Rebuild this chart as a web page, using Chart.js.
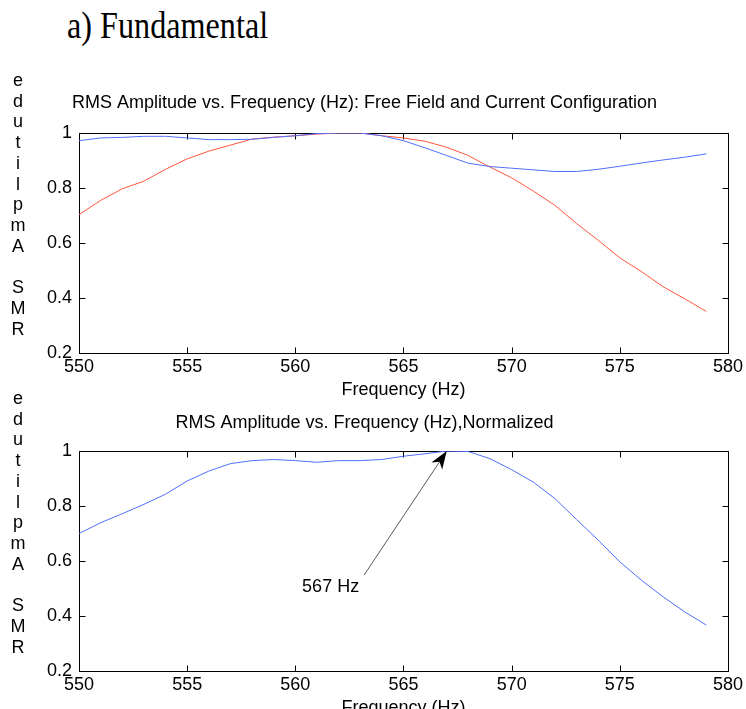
<!DOCTYPE html>
<html><head><meta charset="utf-8">
<script src="https://cdn.jsdelivr.net/npm/chart.js@4.4.0/dist/chart.umd.min.js"></script>
<style>
html,body{margin:0;padding:0;width:746px;height:709px;overflow:hidden;background:#fff;}
#hdr{position:absolute;left:67px;top:5px;font-family:'Liberation Serif','Times New Roman',serif;font-size:37px;line-height:42px;transform-origin:0 0;transform:scaleX(0.87);white-space:nowrap;color:#000;}
#c1{position:absolute;left:0;top:74px;}
#c2{position:absolute;left:0;top:384px;}
</style></head><body>
<div id="hdr">a) Fundamental</div>
<canvas id="c1" width="746" height="330"></canvas>
<canvas id="c2" width="746" height="338"></canvas>
<script>
// ---- data ----
const freqs = [550,551,552,553,554,555,556,557,558,559,560,561,562,563,564,565,566,567,568,569,570,571,572,573,574,575,576,577,578,579];
const freeField = [0.972,0.982,0.984,0.988,0.988,0.982,0.976,0.976,0.977,0.984,0.990,0.998,1.000,1.000,0.990,0.972,0.946,0.918,0.890,0.878,0.872,0.866,0.860,0.860,0.868,0.879,0.891,0.902,0.912,0.924];
const currentConfig = [0.703,0.755,0.797,0.825,0.868,0.906,0.934,0.956,0.978,0.985,0.990,0.996,1.000,1.000,0.990,0.982,0.970,0.948,0.918,0.876,0.837,0.789,0.737,0.671,0.610,0.546,0.496,0.441,0.397,0.351];
const normalized = [0.700,0.739,0.772,0.806,0.843,0.891,0.927,0.954,0.965,0.969,0.965,0.959,0.965,0.965,0.969,0.981,0.990,1.000,0.998,0.972,0.932,0.887,0.827,0.751,0.676,0.597,0.530,0.470,0.415,0.367];
const xTicks = [550,555,560,565,570,575,580];
const yTicks = [0.2,0.4,0.6,0.8,1];
const yLabel = 'RMS Amplitude';
const xLabel = 'Frequency (Hz)';
const title1 = 'RMS Amplitude vs. Frequency (Hz): Free Field and Current Configuration';
const title2 = 'RMS Amplitude vs. Frequency (Hz),Normalized';
const peakLabel = '567 Hz';
const peakFreq = 567;
const peakValue = 1.0;
const arrowTail = [563.18, 0.549];
const labelAnchor = [562.95, 0.505];

// ---- helpers ----
const FONT = "'Liberation Sans', Arial, sans-serif";
Chart.defaults.color = '#000';
Chart.defaults.font.family = FONT;
Chart.defaults.font.size = 18;

const pts = (ys) => freqs.map((f, i) => ({x: f, y: ys[i]}));

const framePlugin = {
  id: 'frame',
  beforeDatasetsDraw(chart) {
    const {ctx, chartArea: a, scales: {x, y}} = chart;
    ctx.save();
    ctx.strokeStyle = '#000';
    ctx.lineWidth = 1;
    const L = Math.round(a.left) + 0.5, R = Math.round(a.right) + 0.5;
    const T = Math.round(a.top) + 0.5, B = Math.round(a.bottom) + 0.5;
    ctx.strokeRect(L, T, R - L, B - T);
    const tl = 6;
    ctx.beginPath();
    xTicks.forEach(v => {
      const px = Math.round(x.getPixelForValue(v)) + 0.5;
      ctx.moveTo(px, B); ctx.lineTo(px, B - tl);
      ctx.moveTo(px, T); ctx.lineTo(px, T + tl);
    });
    yTicks.forEach(v => {
      const py = Math.round(y.getPixelForValue(v)) + 0.5;
      ctx.moveTo(L, py); ctx.lineTo(L + tl, py);
      ctx.moveTo(R, py); ctx.lineTo(R - tl, py);
    });
    ctx.stroke();
    // stacked (reversed) y-axis label
    ctx.fillStyle = '#000';
    ctx.font = '18px ' + FONT;
    ctx.textAlign = 'center';
    ctx.textBaseline = 'middle';
    const chars = yLabel.split('').reverse();
    chars.forEach((ch, i) => {
      ctx.fillText(ch, 18, a.top - 52 + i * 20.75);
    });
    ctx.restore();
  }
};

const arrowPlugin = {
  id: 'arrow',
  afterDatasetsDraw(chart) {
    const {ctx, scales: {x, y}} = chart;
    const hx = x.getPixelForValue(peakFreq), hy = y.getPixelForValue(peakValue);
    const tx = x.getPixelForValue(arrowTail[0]), ty = y.getPixelForValue(arrowTail[1]);
    const ang = Math.atan2(hy - ty, hx - tx);
    const len = 18, half = 6.5, notch = 13;
    ctx.save();
    ctx.strokeStyle = '#444';
    ctx.lineWidth = 0.9;
    ctx.beginPath();
    ctx.moveTo(tx, ty);
    ctx.lineTo(hx - Math.cos(ang) * notch, hy - Math.sin(ang) * notch);
    ctx.stroke();
    const bx = hx - Math.cos(ang) * len, by = hy - Math.sin(ang) * len;
    const nx = -Math.sin(ang), ny = Math.cos(ang);
    ctx.fillStyle = '#000';
    ctx.beginPath();
    ctx.moveTo(hx, hy);
    ctx.lineTo(bx + nx * half, by + ny * half);
    ctx.lineTo(hx - Math.cos(ang) * notch, hy - Math.sin(ang) * notch);
    ctx.lineTo(bx - nx * half, by - ny * half);
    ctx.closePath();
    ctx.fill();
    ctx.font = '18px ' + FONT;
    ctx.textAlign = 'right';
    ctx.textBaseline = 'middle';
    ctx.fillText(peakLabel, x.getPixelForValue(labelAnchor[0]), y.getPixelForValue(labelAnchor[1]));
    ctx.restore();
  }
};

const fmt = v => String(Math.round(v * 10) / 10);

function makeOptions(titleText, tPadTop, tPadBottom) {
  return {
    responsive: false,
    animation: false,
    events: [],
    layout: {padding: {left: 0, right: 17, top: 0, bottom: 0}},
    plugins: {
      legend: {display: false},
      tooltip: {enabled: false},
      title: {display: true, text: titleText, color: '#000',
        font: {size: 18, weight: 'normal', family: FONT, lineHeight: 1.2},
        padding: {top: tPadTop, bottom: tPadBottom}}
    },
    scales: {
      x: {
        type: 'linear', min: 550, max: 580,
        afterBuildTicks: s => { s.ticks = xTicks.map(v => ({value: v})); },
        afterFit: s => { s.height = 51; },
        grid: {display: false, drawTicks: false},
        border: {display: false},
        ticks: {padding: 3, maxRotation: 0, font: {size: 18}, color: '#000', callback: v => String(v)},
        title: {display: true, text: xLabel, font: {size: 18, lineHeight: 1.2}, color: '#000', padding: {top: 0, bottom: 3}}
      },
      y: {
        type: 'linear', min: 0.2, max: 1,
        afterBuildTicks: s => { s.ticks = yTicks.map(v => ({value: v})); },
        afterFit: s => { s.width = 79; },
        grid: {display: false, drawTicks: false},
        border: {display: false},
        ticks: {padding: 7, font: {size: 18}, color: '#000', callback: fmt}
      }
    }
  };
}

new Chart(document.getElementById('c1'), {
  type: 'line',
  data: {datasets: [
    {label: 'Free Field', data: pts(freeField), borderColor: 'rgb(80,110,255)', borderWidth: 1, pointRadius: 0, tension: 0, fill: false},
    {label: 'Current Configuration', data: pts(currentConfig), borderColor: 'rgb(255,85,60)', borderWidth: 1, pointRadius: 0, tension: 0, fill: false}
  ]},
  options: makeOptions(title1, 18.2, 19.2),
  plugins: [framePlugin]
});

new Chart(document.getElementById('c2'), {
  type: 'line',
  data: {datasets: [
    {label: 'Normalized', data: pts(normalized), borderColor: 'rgb(80,110,255)', borderWidth: 1, pointRadius: 0, tension: 0, fill: false}
  ]},
  options: makeOptions(title2, 28.2, 17.2),
  plugins: [framePlugin, arrowPlugin]
});
</script>
</body></html>
